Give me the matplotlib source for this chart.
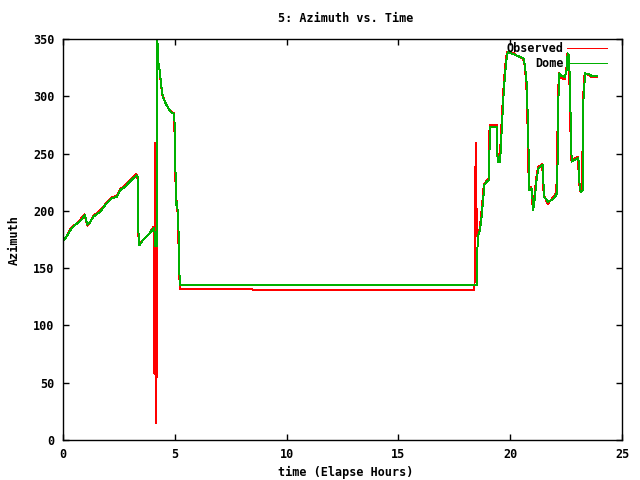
import matplotlib
matplotlib.use("Agg")
import matplotlib.pyplot as plt

# Dome position (green)
dome_t = [0.0, 0.16, 0.39, 0.54, 0.76, 0.98, 1.06, 1.10, 1.21, 1.36, 1.65, 1.95, 2.18, 2.40,
          2.55, 2.77, 3.07, 3.29, 3.34, 3.36, 3.41, 3.6, 3.85, 4.07, 4.10, 4.11, 4.19, 4.22,
          4.24, 4.26, 4.34, 4.38, 4.46, 4.56, 4.71, 4.86, 4.98, 5.0, 5.04, 5.07, 5.10, 5.16,
          5.19, 5.23, 18.5, 18.52, 18.55, 18.65, 18.72, 18.80, 18.84, 18.95, 19.05, 19.07,
          19.10, 19.40, 19.42, 19.45, 19.55, 19.60, 19.70, 19.77, 19.84, 19.89, 20.14, 20.36,
          20.59, 20.66, 20.74, 20.81, 20.85, 20.96, 21.0, 21.03, 21.10, 21.18, 21.26, 21.45,
          21.48, 21.52, 21.70, 21.86, 22.0, 22.08, 22.12, 22.15, 22.20, 22.30, 22.45, 22.53,
          22.57, 22.63, 22.67, 22.72, 22.75, 23.05, 23.10, 23.15, 23.24, 23.27, 23.35, 23.57,
          23.64, 23.87]
dome_az = [174, 177.5, 185, 187.6, 191, 196, 190, 188, 190, 195, 199, 206.6, 211, 212,
           218, 221, 227, 231, 230, 186, 170, 175, 180, 185, 181, 169, 169, 349,
           340, 330, 321, 311, 300, 295, 289.5, 285.7, 284.5, 265, 225.5, 205, 208, 190,
           152.7, 135.3, 135.3, 155.6, 177.5, 183, 195, 212, 222.6, 225.5, 227, 250,
           273, 273, 250, 243, 243, 263, 300, 320, 333, 338.4, 337, 335,
           333, 327, 311, 264.7, 218, 219.7, 210, 200.7, 211, 227, 237, 240,
           227, 212, 208, 209.5, 212, 215, 243, 295, 320, 317.7, 317, 323,
           337.5, 336, 311, 264.7, 243, 246, 224, 216.7, 218, 295, 320, 319,
           317.7, 317.7]

# Observed (red)
obs_t = [0.0, 0.16, 0.39, 0.54, 0.76, 0.96, 1.05, 1.09, 1.21, 1.36, 1.65, 1.95, 2.18, 2.40,
         2.55, 2.77, 3.07, 3.27, 3.33, 3.35, 3.40, 3.6, 3.85, 4.05, 4.07, 4.09, 4.09, 4.12,
         4.13, 4.15, 4.16, 4.18, 4.19, 4.21, 4.23, 4.25, 4.33, 4.37, 4.45, 4.55, 4.70, 4.85,
         4.97, 4.99, 5.03, 5.06, 5.09, 5.15, 5.18, 5.23, 8.48, 8.48, 18.40, 18.42, 18.44,
         18.46, 18.48, 18.52, 18.63, 18.70, 18.78, 18.82, 18.93, 19.03, 19.05, 19.08, 19.42,
         19.43, 19.45, 19.53, 19.58, 19.68, 19.75, 19.82, 19.87, 20.12, 20.34, 20.57, 20.64,
         20.72, 20.79, 20.83, 20.94, 20.98, 21.01, 21.08, 21.16, 21.24, 21.43, 21.46, 21.50,
         21.68, 21.84, 21.98, 22.06, 22.10, 22.13, 22.18, 22.28, 22.43, 22.51, 22.55, 22.61,
         22.65, 22.70, 22.73, 23.03, 23.08, 23.13, 23.22, 23.25, 23.33, 23.55, 23.62, 23.87]
obs_az = [174, 178, 186, 188, 192, 197, 190, 187, 190, 196, 200, 207, 212, 213,
          219, 222, 228, 232, 231, 186, 170, 175, 180, 186, 143, 143, 58, 58,
          259, 259, 14.5, 14.5, 180, 347, 340, 331, 322, 312, 301, 296, 290, 286.5,
          285, 265, 226, 206, 209, 190, 152, 131.5, 131.5, 130.6, 130.6, 163, 227,
          259, 215, 178, 184, 196, 213, 223, 226, 228, 251, 275, 275,
          251, 244, 244, 264, 301, 321, 334, 339, 338, 335, 333, 328,
          312, 265, 219, 221, 211, 201, 212, 228, 238, 241, 228, 214,
          206, 210, 213, 216, 244, 296, 320, 316, 315, 322, 337, 336,
          312, 266, 244, 247, 225, 217, 219, 296, 320, 318, 317, 317]

xticks = [0, 5, 10, 15, 20, 25]
yticks = [0, 50, 100, 150, 200, 250, 300, 350]

plt.rcParams["font.family"] = "DejaVu Sans Mono"
plt.rcParams["font.weight"] = "bold"
plt.rcParams["font.size"] = 8.5

fig = plt.figure(figsize=(6.4, 4.8), dpi=100)
ax = fig.add_axes([63 / 640, 1 - 440 / 480, 559 / 640, 401 / 480])

ax.plot(obs_t, obs_az, color="red", linewidth=0.7, antialiased=False, label="Observed")
ax.plot(dome_t, dome_az, color="#00b000", linewidth=0.7, antialiased=False, label="Dome")

ax.set_xlim(0, 25)
ax.set_ylim(0, 350)
ax.set_xticks(xticks)
ax.set_yticks(yticks)
ax.tick_params(direction="in", length=4, width=1, top=True, right=True, pad=6)
for s in ax.spines.values():
    s.set_linewidth(1)

fig.text(346 / 640, 1 - 18 / 480, "5: Azimuth vs. Time", ha="center", va="center")
fig.text(346 / 640, 1 - 472 / 480, "time (Elapse Hours)", ha="center", va="center")
fig.text(14 / 640, 1 - 240 / 480, "Azimuth", ha="center", va="center", rotation=90)

leg = ax.legend(loc="upper right", frameon=False, markerfirst=False, handlelength=3.4,
                handletextpad=0.3, borderaxespad=0, borderpad=0, labelspacing=0.15,
                bbox_to_anchor=(607 / 640, 1 - 42 / 480), bbox_transform=fig.transFigure)
for ln in leg.get_lines():
    ln.set_antialiased(False)
    ln.set_linewidth(0.7)

fig.savefig("out.png", dpi=100)
